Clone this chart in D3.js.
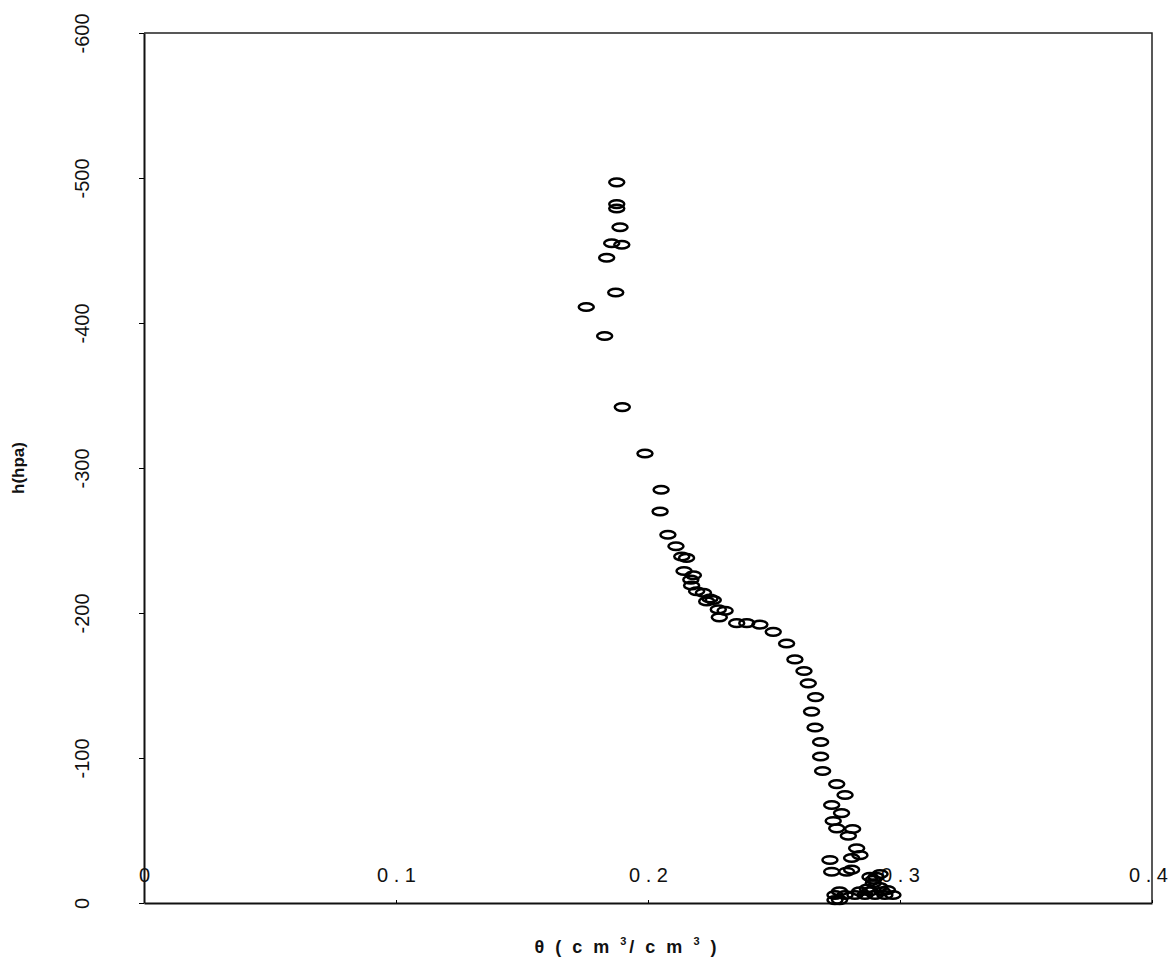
<!DOCTYPE html>
<html>
<head>
<meta charset="utf-8">
<script src="https://cdn.jsdelivr.net/npm/d3@7/dist/d3.min.js"></script>
<style>
  body { margin: 0; background: #fff; }
  text { font-family: "Liberation Sans", Arial, sans-serif; fill: #111; }
</style>
</head>
<body>
<svg id="chart" width="1170" height="959"></svg>
<script>
// water content (cm3/cm3) and matching pressure head (hpa)
var theta = [
  0.1876, 0.1876, 0.1876, 0.1889, 0.1856, 0.1896, 0.1836, 0.1872, 0.1755, 0.1828,
  0.1898, 0.1988, 0.2052, 0.2048, 0.2079, 0.2111, 0.2134, 0.2153, 0.2143, 0.2180,
  0.2170, 0.2173, 0.2193, 0.2220, 0.2246, 0.2259, 0.2233, 0.2279, 0.2306, 0.2283,
  0.2352, 0.2392, 0.2444, 0.2497, 0.2550, 0.2583, 0.2619, 0.2636, 0.2665, 0.2649,
  0.2663, 0.2685, 0.2685, 0.2693, 0.2749, 0.2782, 0.2729, 0.2768, 0.2735, 0.2749,
  0.2812, 0.2795, 0.2828, 0.2841, 0.2808, 0.2722, 0.2729, 0.2788, 0.2808, 0.2881,
  0.2894, 0.2905, 0.2921, 0.2894, 0.2870, 0.2920, 0.2950,
  0.2742, 0.2782, 0.2821, 0.2861, 0.2901, 0.2940, 0.2972,
  0.2760, 0.2840, 0.2880, 0.2930, 0.2742, 0.2760
];
var head = [
  -497, -482, -479, -466, -455, -454, -445, -421, -411, -391,
  -342, -310, -285, -270, -254, -246, -239, -238, -229, -226,
  -223, -219, -215, -214, -210, -209, -208, -202.5, -201.6, -197,
  -193, -193, -192, -187, -179, -168, -160, -151.5, -142, -132,
  -121, -111, -101, -91, -82, -74.5, -67.6, -62, -56.6, -51.5,
  -51, -46.4, -37.7, -33, -31, -29.7, -21.6, -21.6, -23, -18,
  -16, -18, -20, -13.6, -10, -11, -9,
  -5.5, -5.5, -5.5, -5.5, -5.5, -5.5, -5.5,
  -8, -8, -8, -8, -2, -2
];
var xTicks = [0, 0.1, 0.2, 0.3, 0.4];
var xTickLabels = ["0", "0 . 1", "0 . 2", "0 . 3", "0 . 4"];
var yTicks = [0, -100, -200, -300, -400, -500, -600];

var svg = d3.select("#chart"),
    margin = {top: 33, right: 18, bottom: 56, left: 144},
    width = +svg.attr("width") - margin.left - margin.right,
    height = +svg.attr("height") - margin.top - margin.bottom,
    g = svg.append("g").attr("transform", "translate(" + margin.left + "," + margin.top + ")");

var x = d3.scaleLinear().domain([0, 0.4]).range([0, width]);
var y = d3.scaleLinear().domain([0, -600]).range([height, 0]);

// top and right border of the plot box
g.append("path")
    .attr("d", "M0,0H" + width + "V" + height)
    .attr("fill", "none")
    .attr("stroke", "#222")
    .attr("stroke-width", 1.5);

// x axis: labels sit inside the box, above the bottom line
var xAxis = g.append("g")
    .attr("transform", "translate(0," + height + ")")
    .call(d3.axisTop(x)
        .tickValues(xTicks)
        .tickFormat(function(d, i) { return xTickLabels[i]; })
        .tickSizeInner(3)
        .tickSizeOuter(0)
        .tickPadding(18));
xAxis.select(".domain").attr("stroke", "#111").attr("stroke-width", 2);
xAxis.selectAll("text")
    .attr("font-size", 20)
    .attr("fill", "#111");
// last label is pulled in a little so it stays on the page
xAxis.selectAll("text").filter(function(d) { return d === 0.4; }).attr("dx", -4);

// y axis with rotated labels (plain hyphen for the minus)
var yAxis = g.append("g")
    .call(d3.axisLeft(y)
        .tickValues(yTicks)
        .tickFormat(function(d) { return String(d); })
        .tickSizeInner(5)
        .tickSizeOuter(0));
yAxis.select(".domain").attr("stroke", "#111").attr("stroke-width", 2);
yAxis.selectAll("text")
    .attr("x", null)
    .attr("dy", "0.35em")
    .attr("text-anchor", "middle")
    .attr("transform", "translate(-62,0) rotate(-90)")
    .attr("font-size", 20)
    .attr("fill", "#111");

// markers
g.append("g")
    .selectAll("ellipse")
    .data(theta)
    .enter().append("ellipse")
    .attr("cx", function(d) { return x(d); })
    .attr("cy", function(d, i) { return y(head[i]); })
    .attr("rx", 7.5)
    .attr("ry", 3.8)
    .attr("fill", "none")
    .attr("stroke", "#000")
    .attr("stroke-width", 2.5);

// axis titles
svg.append("text")
    .attr("transform", "translate(24,468) rotate(-90)")
    .attr("text-anchor", "middle")
    .attr("font-size", 17)
    .attr("font-weight", "bold")
    .text("h(hpa)");

var xt = svg.append("text")
    .attr("x", 627)
    .attr("y", 953)
    .attr("text-anchor", "middle")
    .attr("font-size", 18)
    .attr("font-weight", "bold")
    .attr("letter-spacing", 3);
xt.append("tspan").text("θ ( c m  ");
xt.append("tspan").attr("font-size", 11).attr("dy", -8).text("3");
xt.append("tspan").attr("dy", 8).text("/ c m  ");
xt.append("tspan").attr("font-size", 11).attr("dy", -8).text("3");
xt.append("tspan").attr("dy", 8).text(" )");
</script>
</body>
</html>
